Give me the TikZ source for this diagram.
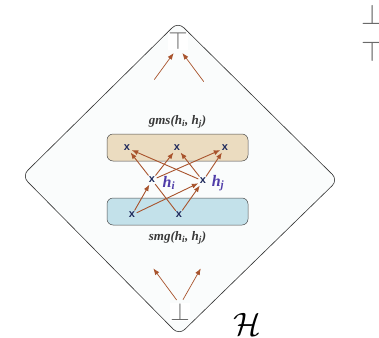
\documentclass[tikz,border=0pt]{standalone}
\usepackage{amsmath}
\usepackage{fontspec}
\usepackage{xcolor}
\usepackage{tikz}
\usetikzlibrary{arrows.meta,positioning}
\newfontfamily\tiempos{Liberation Serif}
\newfontfamily\palo{Liberation Sans}
\definecolor{ladrillo}{HTML}{A8532C}
\definecolor{tinta}{HTML}{1F2A5C}
\definecolor{violeta}{HTML}{4F3CA8}
\definecolor{arena}{HTML}{EBDCC0}
\definecolor{cielo}{HTML}{C3E1EA}
\definecolor{gris}{HTML}{6A6A6A}
\definecolor{fondo}{HTML}{FAFCFC}

\begin{document}
\begin{tikzpicture}[x=1pt,y=-1pt,
  caja/.style={draw=black!70,rounded corners=6pt,minimum width=141pt,minimum height=27pt,line width=0.5pt},
  punto/.style={text=tinta,font=\palo\bfseries\fontsize{11}{11}\selectfont,inner sep=1pt},
  flecha/.style={-{Latex[length=6.5pt,width=5pt]},ladrillo,line width=0.9pt,shorten >=0.5pt,shorten <=0.5pt},
  cota/.style={text=gris,font=\fontsize{25}{25}\selectfont,inner sep=0pt},
  rotulo/.style={font=\tiempos\bfseries\itshape\fontsize{13}{15}\selectfont,text=black!78},
  etiqueta/.style={text=violeta,font=\tiempos\bfseries\itshape\fontsize{16}{16}\selectfont,inner sep=1pt}]
\useasboundingbox (0,0) rectangle (379,337);
% rombo H
\coordinate (n) at (178,22);
\coordinate (e) at (338,180);
\coordinate (s) at (179,335);
\coordinate (w) at (22,176);
\draw[black!80,fill=fondo,rounded corners=8pt,line width=0.6pt] (n) -- (e) -- (s) -- (w) -- cycle;
\node[cota,fill=white] (top) at (178,41) {$\top$};
\node[cota,fill=white] (bot) at (180,312) {$\bot$};
\coordinate (a1) at (154,80);
\coordinate (a2) at (204,82);
\coordinate (b1) at (153,268);
\coordinate (b2) at (201,268);
\draw[flecha,line width=0.7pt,shorten >=4pt] (a1) -- ([xshift=-2pt]top.south);
\draw[flecha,line width=0.7pt,shorten >=4pt] (a2) -- ([xshift=2pt]top.south);
\draw[flecha,line width=0.7pt,shorten <=4pt] ([xshift=-1pt]bot.north) -- (b1);
\draw[flecha,line width=0.7pt,shorten <=4pt] ([xshift=1pt]bot.north) -- (b2);
% cajas
\node[caja,fill=arena] (gms) at (177.5,147.5) {};
\node[caja,fill=cielo] (smg) at (177.5,211.5) {};
\node[rotulo,above=2pt of gms] (lgms) {gms(h\textsubscript{i}, h\textsubscript{j})};
\node[rotulo,below=3pt of smg] (lsmg) {smg(h\textsubscript{i}, h\textsubscript{j})};
% puntos
\node[punto] (t1) at (127,148) {x};
\node[punto] (t2) at (177,148) {x};
\node[punto] (t3) at (225,148) {x};
\node[punto] (hi) at (152,180) {x};
\node[punto] (hj) at (203,181) {x};
\node[punto] (s1) at (132,215) {x};
\node[punto] (s2) at (179,215) {x};
\node[etiqueta] (lhi) at (169,183) {h\textsubscript{i}};
\node[etiqueta] (lhj) at (218,183) {h\textsubscript{j}};
\draw[flecha] (s1) -- (hi);
\draw[flecha] (s1) -- (hj);
\draw[flecha] (s2) -- (hj);
\draw[ladrillo,line width=0.9pt] (s2) -- (hi);
\foreach \t in {t1,t2,t3}{
  \draw[flecha] (hi) -- (\t);
  \draw[flecha] (hj) -- (\t);
}
\node (hset) at (247,324) {\fontsize{25}{25}\selectfont\scalebox{1.3}{$\mathcal{H}$}};
% leyenda
\node[cota] (bot2) at (373,15) {\scalebox{1.15}{$\bot$}};
\node[cota] (top2) at (373,52) {\scalebox{1.15}{$\top$}};
\end{tikzpicture}
\end{document}
